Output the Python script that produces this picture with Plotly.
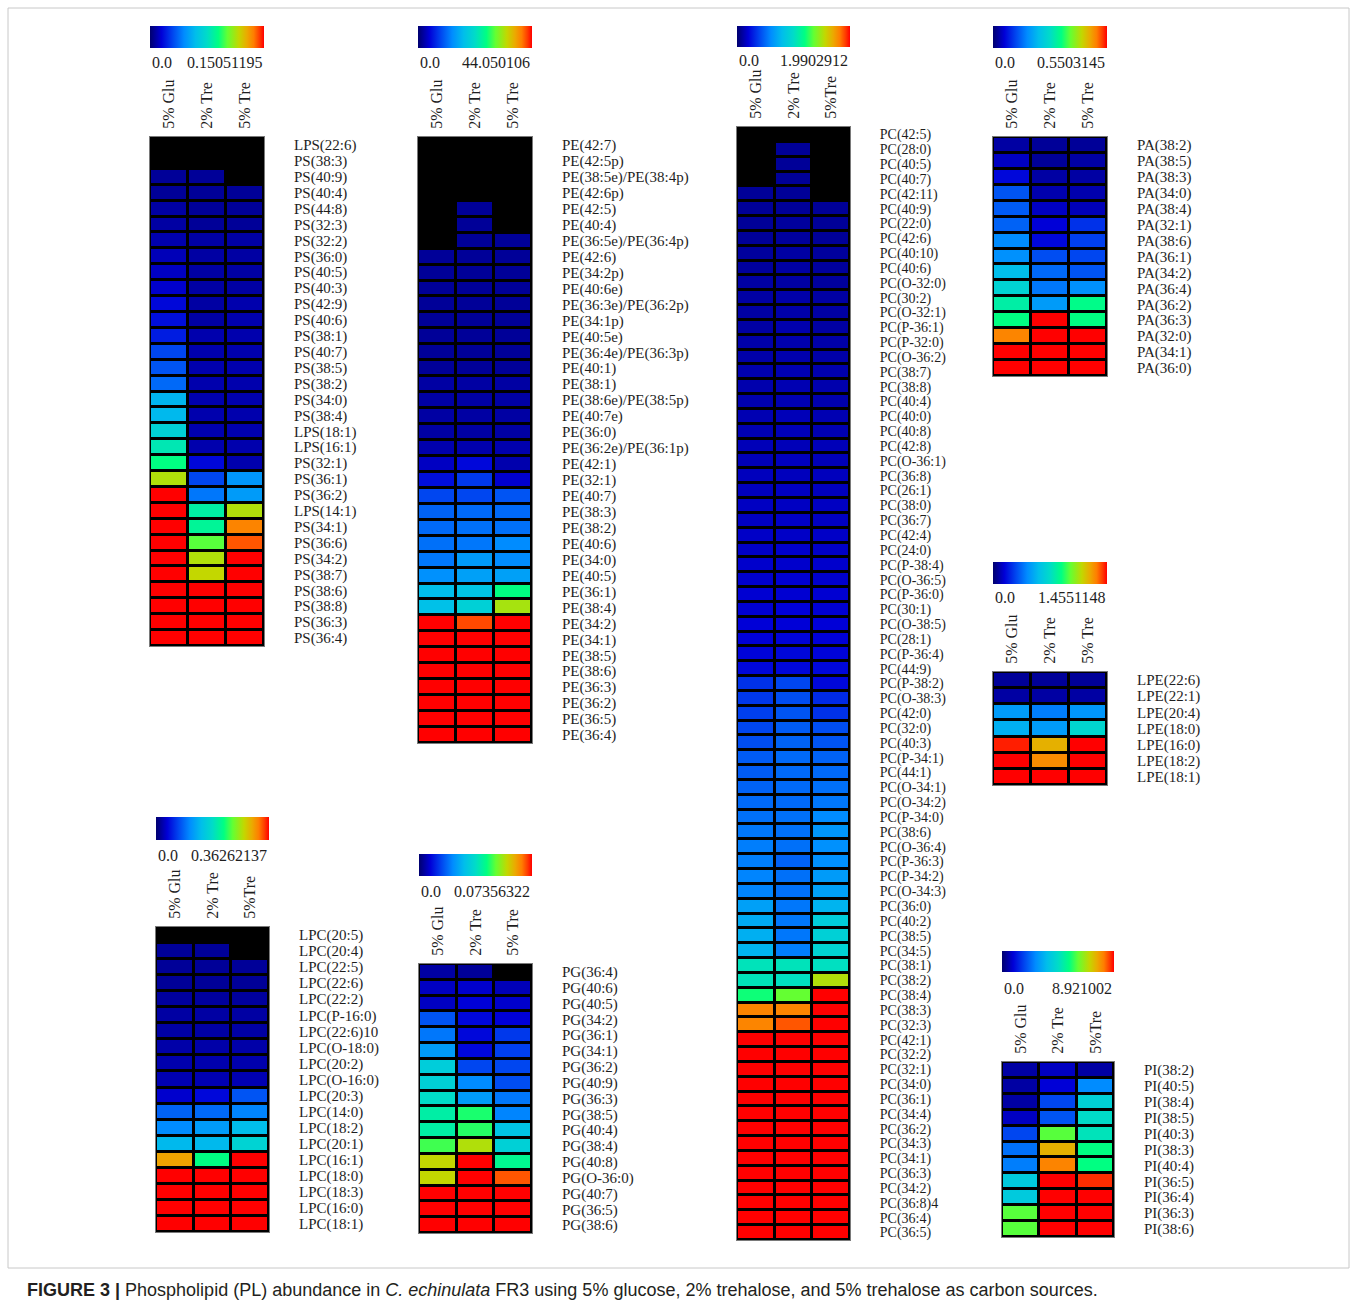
import numpy as np
import plotly.graph_objects as go

W, H = 1357, 1306

# ---------------- data (relative colour level = value / colour-scale max) ----------------
cond_sp = ["5% Glu", "2% Tre", "5% Tre"]
cond_ns = ["5% Glu", "2% Tre", "5%Tre"]

ps_lipids = ["LPS(22:6)", "PS(38:3)", "PS(40:9)", "PS(40:4)", "PS(44:8)", "PS(32:3)", "PS(32:2)", "PS(36:0)",
             "PS(40:5)", "PS(40:3)", "PS(42:9)", "PS(40:6)", "PS(38:1)", "PS(40:7)", "PS(38:5)", "PS(38:2)",
             "PS(34:0)", "PS(38:4)", "LPS(18:1)", "LPS(16:1)", "PS(32:1)", "PS(36:1)", "PS(36:2)", "LPS(14:1)",
             "PS(34:1)", "PS(36:6)", "PS(34:2)", "PS(38:7)", "PS(38:6)", "PS(38:8)", "PS(36:3)", "PS(36:4)"]
ps_glu = [None, None, 0.04, 0.04, 0.05, 0.05, 0.06, 0.07, 0.08, 0.09, 0.11, 0.12, 0.14, 0.20, 0.22, 0.25,
          0.38, 0.39, 0.46, 0.53, 0.60, 0.76, 1, 1, 1, 1, 1, 1, 1, 1, 1, 1]
ps_tre2 = [None, None, 0.04, 0.04, 0.04, 0.04, 0.05, 0.05, 0.05, 0.05, 0.05, 0.05, 0.06, 0.06, 0.06, 0.06,
           0.06, 0.06, 0.06, 0.06, 0.11, 0.20, 0.27, 0.55, 0.57, 0.67, 0.76, 0.78, 1, 1, 1, 1]
ps_tre5 = [None, None, None, 0.04, 0.04, 0.04, 0.05, 0.05, 0.05, 0.05, 0.06, 0.06, 0.06, 0.06, 0.06, 0.06,
           0.06, 0.06, 0.06, 0.06, 0.06, 0.32, 0.33, 0.76, 0.90, 0.94, 1, 1, 1, 1, 1, 1]
ps_max = 0.15051195

pe_lipids = ["PE(42:7)", "PE(42:5p)", "PE(38:5e)/PE(38:4p)", "PE(42:6p)", "PE(42:5)", "PE(40:4)",
             "PE(36:5e)/PE(36:4p)", "PE(42:6)", "PE(34:2p)", "PE(40:6e)", "PE(36:3e)/PE(36:2p)", "PE(34:1p)",
             "PE(40:5e)", "PE(36:4e)/PE(36:3p)", "PE(40:1)", "PE(38:1)", "PE(38:6e)/PE(38:5p)", "PE(40:7e)",
             "PE(36:0)", "PE(36:2e)/PE(36:1p)", "PE(42:1)", "PE(32:1)", "PE(40:7)", "PE(38:3)", "PE(38:2)",
             "PE(40:6)", "PE(34:0)", "PE(40:5)", "PE(36:1)", "PE(38:4)", "PE(34:2)", "PE(34:1)", "PE(38:5)",
             "PE(38:6)", "PE(36:3)", "PE(36:2)", "PE(36:5)", "PE(36:4)"]
pe_glu = [None, None, None, None, None, None, None, 0.04, 0.04, 0.04, 0.04, 0.04, 0.04, 0.04, 0.04,
          0.05, 0.05, 0.05, 0.05, 0.06, 0.08, 0.12, 0.20, 0.24, 0.25, 0.26, 0.27, 0.31, 0.40, 0.41,
          1, 1, 1, 1, 1, 1, 1, 1]
pe_tre2 = [None, None, None, None, 0.04, 0.04, 0.04, 0.04, 0.04, 0.04, 0.04, 0.04, 0.04, 0.04, 0.04,
           0.05, 0.05, 0.05, 0.05, 0.06, 0.11, 0.18, 0.20, 0.25, 0.26, 0.27, 0.33, 0.34, 0.42, 0.46,
           0.95, 1, 1, 1, 1, 1, 1, 1]
pe_tre5 = [None, None, None, None, None, None, 0.04, 0.04, 0.04, 0.04, 0.04, 0.04, 0.04, 0.04, 0.04,
           0.05, 0.05, 0.05, 0.05, 0.06, 0.06, 0.09, 0.22, 0.25, 0.26, 0.30, 0.30, 0.34, 0.60, 0.75,
           1, 1, 1, 1, 1, 1, 1, 1]
pe_max = 44.050106

pc_lipids = ["PC(42:5)", "PC(28:0)", "PC(40:5)", "PC(40:7)", "PC(42:11)", "PC(40:9)", "PC(22:0)", "PC(42:6)",
             "PC(40:10)", "PC(40:6)", "PC(O-32:0)", "PC(30:2)", "PC(O-32:1)", "PC(P-36:1)", "PC(P-32:0)",
             "PC(O-36:2)", "PC(38:7)", "PC(38:8)", "PC(40:4)", "PC(40:0)", "PC(40:8)", "PC(42:8)", "PC(O-36:1)",
             "PC(36:8)", "PC(26:1)", "PC(38:0)", "PC(36:7)", "PC(42:4)", "PC(24:0)", "PC(P-38:4)", "PC(O-36:5)",
             "PC(P-36:0)", "PC(30:1)", "PC(O-38:5)", "PC(28:1)", "PC(P-36:4)", "PC(44:9)", "PC(P-38:2)",
             "PC(O-38:3)", "PC(42:0)", "PC(32:0)", "PC(40:3)", "PC(P-34:1)", "PC(44:1)", "PC(O-34:1)",
             "PC(O-34:2)", "PC(P-34:0)", "PC(38:6)", "PC(O-36:4)", "PC(P-36:3)", "PC(P-34:2)", "PC(O-34:3)",
             "PC(36:0)", "PC(40:2)", "PC(38:5)", "PC(34:5)", "PC(38:1)", "PC(38:2)", "PC(38:4)", "PC(38:3)",
             "PC(32:3)", "PC(42:1)", "PC(32:2)", "PC(32:1)", "PC(34:0)", "PC(36:1)", "PC(34:4)", "PC(36:2)",
             "PC(34:3)", "PC(34:1)", "PC(36:3)", "PC(34:2)", "PC(36:8)4", "PC(36:4)", "PC(36:5)"]
pc_glu = [None, None, None, None,
          0.04, 0.04, 0.04, 0.04, 0.045, 0.045, 0.05, 0.05, 0.05, 0.05, 0.055, 0.055, 0.06, 0.06, 0.06, 0.065, 0.065,
          0.07, 0.07, 0.075, 0.075, 0.08, 0.08, 0.085, 0.085, 0.09, 0.09, 0.095, 0.095, 0.10, 0.10, 0.105, 0.11,
          0.17, 0.18, 0.19, 0.20, 0.21, 0.23, 0.23, 0.24, 0.25, 0.26, 0.27, 0.28, 0.28, 0.29, 0.29, 0.34,
          0.36, 0.37, 0.38, 0.52, 0.52, 0.61, 0.90, 0.90,
          1, 1, 1, 1, 1, 1, 1, 1, 1, 1, 1, 1, 1, 1]
pc_tre2 = [None,
           0.04, 0.04, 0.04, 0.04, 0.04, 0.045, 0.045, 0.05, 0.05, 0.05, 0.055, 0.055, 0.06, 0.06, 0.06, 0.065,
           0.065, 0.065, 0.07, 0.07,
           0.07, 0.075, 0.075, 0.08, 0.08, 0.085, 0.085, 0.09, 0.09, 0.095, 0.095, 0.10, 0.10, 0.105, 0.11, 0.11,
           0.20, 0.21, 0.22, 0.23, 0.24, 0.25, 0.25, 0.25, 0.25, 0.26, 0.26, 0.26, 0.24, 0.26, 0.26, 0.27,
           0.27, 0.27, 0.28, 0.52, 0.51, 0.68, 0.90, 0.94,
           1, 1, 1, 1, 1, 1, 1, 1, 1, 1, 1, 1, 1, 1]
pc_tre5 = [None, None, None, None, None,
           0.04, 0.04, 0.04, 0.045, 0.045, 0.045, 0.05, 0.05, 0.05, 0.055, 0.055, 0.06, 0.06, 0.06, 0.065, 0.065,
           0.07, 0.07, 0.075, 0.075, 0.08, 0.08, 0.085, 0.085, 0.09, 0.09, 0.095, 0.095, 0.10, 0.10, 0.105, 0.11,
           0.11, 0.16, 0.17, 0.21, 0.22, 0.24, 0.25, 0.26, 0.27, 0.30, 0.32, 0.31, 0.31, 0.33, 0.34, 0.38,
           0.45, 0.46, 0.47, 0.51, 0.76, 1, 1, 1,
           1, 1, 1, 1, 1, 1, 1, 1, 1, 1, 1, 1, 1, 1]
pc_max = 1.9902912

pa_lipids = ["PA(38:2)", "PA(38:5)", "PA(38:3)", "PA(34:0)", "PA(38:4)", "PA(32:1)", "PA(38:6)", "PA(36:1)",
             "PA(34:2)", "PA(36:4)", "PA(36:2)", "PA(36:3)", "PA(32:0)", "PA(34:1)", "PA(36:0)"]
pa_glu = [0.05, 0.08, 0.11, 0.22, 0.23, 0.24, 0.30, 0.31, 0.40, 0.47, 0.55, 0.60, 0.90, 1, 1]
pa_tre2 = [0.04, 0.04, 0.05, 0.06, 0.08, 0.10, 0.11, 0.21, 0.25, 0.27, 0.33, 1, 1, 1, 1]
pa_tre5 = [0.04, 0.05, 0.05, 0.06, 0.07, 0.17, 0.19, 0.20, 0.22, 0.31, 0.59, 0.60, 1, 1, 1]
pa_max = 0.5503145

lpe_lipids = ["LPE(22:6)", "LPE(22:1)", "LPE(20:4)", "LPE(18:0)", "LPE(16:0)", "LPE(18:2)", "LPE(18:1)"]
lpe_glu = [0.04, 0.05, 0.33, 0.37, 0.98, 1, 1]
lpe_tre2 = [0.04, 0.05, 0.28, 0.33, 0.84, 0.89, 1]
lpe_tre5 = [0.04, 0.05, 0.32, 0.48, 1, 1, 1]
lpe_max = 1.4551148

lpc_lipids = ["LPC(20:5)", "LPC(20:4)", "LPC(22:5)", "LPC(22:6)", "LPC(22:2)", "LPC(P-16:0)", "LPC(22:6)10",
              "LPC(O-18:0)", "LPC(20:2)", "LPC(O-16:0)", "LPC(20:3)", "LPC(14:0)", "LPC(18:2)", "LPC(20:1)",
              "LPC(16:1)", "LPC(18:0)", "LPC(18:3)", "LPC(16:0)", "LPC(18:1)"]
lpc_glu = [None, 0.04, 0.04, 0.04, 0.045, 0.05, 0.05, 0.055, 0.06, 0.065, 0.09, 0.24, 0.30, 0.39, 0.86, 1, 1, 1, 1]
lpc_tre2 = [None, 0.04, 0.04, 0.04, 0.045, 0.05, 0.05, 0.055, 0.06, 0.065, 0.11, 0.25, 0.33, 0.39, 0.60, 1, 1, 1, 1]
lpc_tre5 = [None, None, 0.04, 0.04, 0.045, 0.05, 0.05, 0.055, 0.06, 0.065, 0.22, 0.29, 0.40, 0.47, 1, 1, 1, 1, 1]
lpc_max = 0.36262137

pg_lipids = ["PG(36:4)", "PG(40:6)", "PG(40:5)", "PG(34:2)", "PG(36:1)", "PG(34:1)", "PG(36:2)", "PG(40:9)",
             "PG(36:3)", "PG(38:5)", "PG(40:4)", "PG(38:4)", "PG(40:8)", "PG(O-36:0)", "PG(40:7)", "PG(36:5)",
             "PG(38:6)"]
pg_glu = [0.05, 0.08, 0.08, 0.22, 0.27, 0.33, 0.45, 0.46, 0.50, 0.55, 0.55, 0.65, 0.78, 0.78, 1, 1, 1]
pg_tre2 = [0.04, 0.09, 0.10, 0.11, 0.11, 0.11, 0.20, 0.30, 0.33, 0.62, 0.63, 0.76, 1, 1, 1, 1, 1]
pg_tre5 = [None, 0.07, 0.09, 0.10, 0.18, 0.19, 0.20, 0.21, 0.27, 0.29, 0.42, 0.46, 0.58, 0.94, 1, 1, 1]
pg_max = 0.07356322

pi_lipids = ["PI(38:2)", "PI(40:5)", "PI(38:4)", "PI(38:5)", "PI(40:3)", "PI(38:3)", "PI(40:4)", "PI(36:5)",
             "PI(36:4)", "PI(36:3)", "PI(38:6)"]
pi_glu = [0.05, 0.05, 0.05, 0.08, 0.20, 0.26, 0.28, 0.44, 0.44, 0.67, 0.67]
pi_tre2 = [0.08, 0.10, 0.20, 0.22, 0.67, 0.84, 0.90, 1, 1, 1, 1]
pi_tre5 = [0.05, 0.30, 0.46, 0.50, 0.52, 0.60, 0.60, 0.97, 1, 1, 1]
pi_max = 8.921002

caption = ("<b>FIGURE 3 |</b> Phospholipid (PL) abundance in <i>C. echinulata</i> FR3 using 5% glucose, "
           "2% trehalose, and 5% trehalose as carbon sources.")

# ---------------- styling / layout ----------------
jet = [
    [0.00, "rgb(0,0,110)"],
    [0.10, "rgb(0,0,215)"],
    [0.20, "rgb(0,70,240)"],
    [0.30, "rgb(0,140,255)"],
    [0.40, "rgb(0,190,235)"],
    [0.50, "rgb(0,220,200)"],
    [0.60, "rgb(0,255,130)"],
    [0.68, "rgb(100,255,50)"],
    [0.78, "rgb(195,215,0)"],
    [0.85, "rgb(235,170,0)"],
    [0.91, "rgb(255,125,0)"],
    [0.96, "rgb(255,60,0)"],
    [1.00, "rgb(255,0,0)"],
]

SERIF = "Liberation Serif, Times New Roman, serif"
TXT = "#1e1e1e"

# (lipids, conditions, (glu, tre2, tre5), vmax) + placement in px:
# left, right, top, bottom, cb_top, cb_bot, cb_label_y, row-label font size
panels = [
    (ps_lipids, cond_sp, (ps_glu, ps_tre2, ps_tre5), ps_max, (150, 264, 137, 646, 26, 48, 62, 15)),
    (pe_lipids, cond_sp, (pe_glu, pe_tre2, pe_tre5), pe_max, (418, 532, 137, 743, 26, 48, 62, 15)),
    (pc_lipids, cond_ns, (pc_glu, pc_tre2, pc_tre5), pc_max, (737, 850, 127, 1240, 26, 47, 60, 14)),
    (pa_lipids, cond_sp, (pa_glu, pa_tre2, pa_tre5), pa_max, (993, 1107, 137, 376, 26, 48, 62, 15)),
    (lpe_lipids, cond_sp, (lpe_glu, lpe_tre2, lpe_tre5), lpe_max, (993, 1107, 672, 785, 562, 584, 598, 15)),
    (lpc_lipids, cond_ns, (lpc_glu, lpc_tre2, lpc_tre5), lpc_max, (156, 269, 927, 1232, 817, 840, 855, 15)),
    (pg_lipids, cond_sp, (pg_glu, pg_tre2, pg_tre5), pg_max, (419, 532, 964, 1233, 854, 876, 891, 15)),
    (pi_lipids, cond_ns, (pi_glu, pi_tre2, pi_tre5), pi_max, (1002, 1114, 1062, 1237, 951, 972, 988, 15)),
]

fig = go.Figure()
layout = dict(
    width=W, height=H,
    margin=dict(l=0, r=0, t=0, b=0),
    paper_bgcolor="white",
    plot_bgcolor="black",
    showlegend=False,
    font=dict(family=SERIF, color=TXT),
)
annotations = []

for i, (lipids, conds, series, vmax, box) in enumerate(panels):
    l, r, t, b, cbt, cbb, cby, fs = box
    n = len(lipids)
    z = []
    for k in range(n):
        row = []
        for s in series:
            v = s[k]
            row.append(None if v is None else v * vmax)
        z.append(row)
    sfx = "" if i == 0 else str(i + 1)
    fig.add_trace(go.Heatmap(
        z=z, x=[0, 1, 2], y=list(range(n)),
        xaxis="x" + sfx, yaxis="y" + sfx,
        colorscale=jet, zmin=0, zmax=vmax,
        xgap=3, ygap=3, hoverongaps=False,
        showscale=True,
        colorbar=dict(
            orientation="h", x=l / W, xanchor="left", y=1 - cbt / H, yanchor="top",
            len=r - l, lenmode="pixels", thickness=cbb - cbt, thicknessmode="pixels",
            xpad=0, ypad=0, outlinewidth=0, showticklabels=False, ticks="",
        ),
    ))
    layout["xaxis" + sfx] = dict(
        domain=[l / W, r / W], anchor="y" + sfx, side="top",
        range=[-0.5, 2.5], tickvals=[0, 1, 2], ticktext=conds, tickangle=-90,
        ticks="outside", ticklen=4, tickcolor="rgba(0,0,0,0)",
        tickfont=dict(family=SERIF, size=16, color=TXT),
        showline=True, mirror=True, linecolor="#7a7a7a", linewidth=1,
        showgrid=False, zeroline=False, fixedrange=True,
    )
    layout["yaxis" + sfx] = dict(
        domain=[1 - b / H, 1 - t / H], anchor="x" + sfx, side="right",
        range=[n - 0.5, -0.5], tickvals=list(range(n)), ticktext=lipids,
        ticks="outside", ticklen=26, tickcolor="rgba(0,0,0,0)",
        tickfont=dict(family=SERIF, size=fs, color=TXT),
        showline=True, mirror=True, linecolor="#7a7a7a", linewidth=1,
        showgrid=False, zeroline=False, fixedrange=True,
    )
    annotations.append(dict(text="0.0", x=l / W, y=1 - cby / H, xref="paper", yref="paper",
                            xanchor="left", yanchor="middle", showarrow=False,
                            font=dict(family=SERIF, size=16, color=TXT)))
    annotations.append(dict(text=str(vmax), x=r / W, y=1 - cby / H, xref="paper", yref="paper",
                            xanchor="right", yanchor="middle", showarrow=False,
                            font=dict(family=SERIF, size=16, color=TXT)))

annotations.append(dict(text=caption, x=25 / W, y=1 - 1290 / H, xref="paper", yref="paper",
                        xanchor="left", yanchor="middle", showarrow=False,
                        font=dict(family="Liberation Sans, Arial, sans-serif", size=18, color="#231f20")))
layout["annotations"] = annotations
layout["shapes"] = [dict(type="rect", xref="paper", yref="paper",
                         x0=8 / W, x1=1349 / W, y0=1 - 1268 / H, y1=1 - 8 / H,
                         line=dict(color="#c8c8c8", width=1), fillcolor="rgba(0,0,0,0)", layer="below")]
fig.update_layout(**layout)

fig.write_html("out.html", config={"displayModeBar": False},
               post_script="document.body.style.margin='0';")
